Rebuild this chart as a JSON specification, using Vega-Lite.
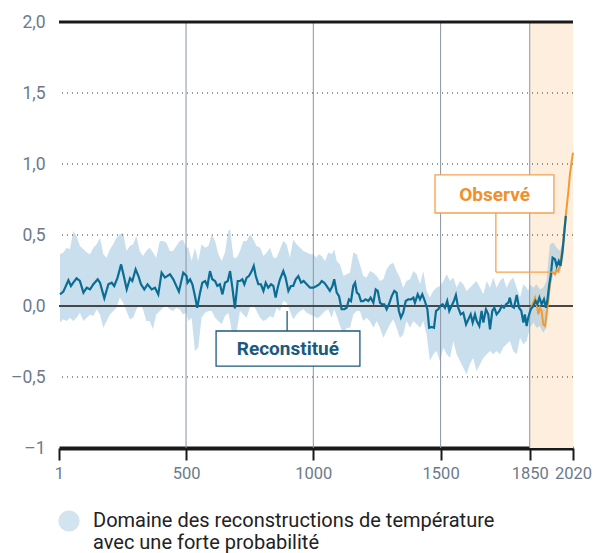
{
  "$schema": "https://vega.github.io/schema/vega-lite/v6.json",
  "width": 514,
  "height": 426,
  "autosize": "none",
  "padding": {"left": 59, "top": 22, "right": 22, "bottom": 105},
  "config": {
    "view": {"stroke": null},
    "font": "Roboto",
    "axis": {"zindex": 1}
  },
  "datasets": {
    "recon": [
      {"year":5,"t":0.082},{"year":18,"t":0.101},{"year":38,"t":0.181},{"year":48,"t":0.141},{"year":57,"t":0.164},{"year":70,"t":0.195},{"year":83,"t":0.176},{"year":97,"t":0.094},{"year":110,"t":0.129},{"year":123,"t":0.117},{"year":136,"t":0.153},{"year":153,"t":0.188},{"year":162,"t":0.164},{"year":179,"t":0.054},{"year":195,"t":0.153},{"year":208,"t":0.164},{"year":218,"t":0.141},{"year":231,"t":0.2},{"year":245,"t":0.293},{"year":254,"t":0.223},{"year":267,"t":0.117},{"year":280,"t":0.195},{"year":289,"t":0.176},{"year":302,"t":0.258},{"year":313,"t":0.211},{"year":323,"t":0.153},{"year":336,"t":0.117},{"year":349,"t":0.153},{"year":365,"t":0.117},{"year":378,"t":0.129},{"year":391,"t":0.082},{"year":404,"t":0.235},{"year":417,"t":0.2},{"year":437,"t":0.223},{"year":450,"t":0.188},{"year":472,"t":0.101},{"year":489,"t":0.235},{"year":502,"t":0.211},
      {"year":506,"t":0.164},{"year":516,"t":0.188},{"year":525,"t":0.153},{"year":535,"t":0.07},{"year":544,"t":-0.012},{"year":555,"t":0.094},{"year":564,"t":0.164},{"year":575,"t":0.176},{"year":584,"t":0.141},{"year":594,"t":0.246},{"year":603,"t":0.188},{"year":614,"t":0.176},{"year":623,"t":0.141},{"year":633,"t":0.153},{"year":643,"t":0.082},{"year":653,"t":0.164},{"year":664,"t":0.176},{"year":673,"t":0.246},{"year":682,"t":0.129},{"year":692,"t":-0.016},{"year":703,"t":0.176},{"year":712,"t":0.176},{"year":721,"t":0.188},{"year":729,"t":0.153},{"year":738,"t":0.2},{"year":747,"t":0.211},{"year":758,"t":0.246},{"year":766,"t":0.282},{"year":774,"t":0.211},{"year":784,"t":0.153},{"year":794,"t":0.153},{"year":804,"t":0.106},{"year":813,"t":0.164},{"year":823,"t":0.129},{"year":834,"t":0.153},{"year":843,"t":0.141},{"year":852,"t":0.059},{"year":860,"t":0.129},{"year":869,"t":0.188},{"year":882,"t":0.246},{"year":891,"t":0.2},{"year":902,"t":0.106},{"year":912,"t":0.141},{"year":921,"t":0.141},{"year":931,"t":0.188},{"year":941,"t":0.211},{"year":952,"t":0.164},{"year":962,"t":0.176},{"year":974,"t":0.153},{"year":987,"t":0.129},{"year":1000,"t":0.129},{"year":1013,"t":0.141},{"year":1024,"t":0.153},
      {"year":1033,"t":0.176},{"year":1043,"t":0.164},{"year":1052,"t":0.141},{"year":1065,"t":0.106},{"year":1075,"t":0.141},{"year":1082,"t":0.188},{"year":1092,"t":0.094},{"year":1101,"t":0.07},{"year":1111,"t":-0.023},{"year":1122,"t":-0.023},{"year":1131,"t":-0.012},{"year":1140,"t":0.047},{"year":1148,"t":0.035},{"year":1157,"t":0.141},{"year":1164,"t":0.164},{"year":1171,"t":0.094},{"year":1179,"t":0.082},{"year":1187,"t":0.035},{"year":1196,"t":0.035},{"year":1205,"t":0.047},{"year":1216,"t":0.035},{"year":1225,"t":0.059},{"year":1236,"t":0.023},{"year":1245,"t":0.117},{"year":1253,"t":0.106},{"year":1262,"t":0.023},{"year":1271,"t":0.012},{"year":1279,"t":0.012},{"year":1288,"t":-0.023},{"year":1297,"t":0.012},{"year":1308,"t":0.07},{"year":1318,"t":0.106},{"year":1327,"t":0.094},{"year":1336,"t":-0.035},{"year":1344,"t":-0.082},{"year":1353,"t":-0.047},{"year":1363,"t":0.035},{"year":1373,"t":0.047},{"year":1384,"t":0.047},{"year":1393,"t":0.059},{"year":1399,"t":0.023},{"year":1410,"t":0.082},{"year":1419,"t":0.047},{"year":1428,"t":0.082},{"year":1438,"t":0.035},{"year":1448,"t":-0.023},{"year":1455,"t":-0.153},{"year":1465,"t":-0.148},{"year":1474,"t":-0.153},{"year":1482,"t":-0.035},{"year":1491,"t":-0.023},
      {"year":1498,"t":0},{"year":1508,"t":0.012},{"year":1517,"t":-0.012},{"year":1526,"t":0.035},{"year":1534,"t":-0.035},{"year":1543,"t":0},{"year":1552,"t":0.035},{"year":1560,"t":0.077},{"year":1569,"t":-0.012},{"year":1579,"t":-0.059},{"year":1589,"t":-0.047},{"year":1600,"t":-0.129},{"year":1609,"t":-0.094},{"year":1618,"t":-0.059},{"year":1626,"t":-0.117},{"year":1635,"t":-0.059},{"year":1642,"t":-0.106},{"year":1652,"t":-0.141},{"year":1661,"t":-0.035},{"year":1668,"t":-0.117},{"year":1678,"t":-0.023},{"year":1687,"t":-0.059},{"year":1694,"t":-0.164},{"year":1703,"t":-0.035},{"year":1711,"t":-0.012},{"year":1720,"t":-0.059},{"year":1731,"t":-0.035},{"year":1740,"t":0},{"year":1749,"t":-0.012},{"year":1757,"t":0.012},{"year":1766,"t":0.023},{"year":1772,"t":0.059},{"year":1779,"t":0},{"year":1788,"t":-0.012},{"year":1799,"t":0.077},{"year":1808,"t":-0.012},{"year":1817,"t":-0.035},{"year":1825,"t":-0.117},{"year":1831,"t":-0.059},{"year":1838,"t":-0.141},{"year":1844,"t":-0.082},{"year":1854,"t":-0.023},{"year":1864,"t":0},{"year":1873,"t":0.035},{"year":1880,"t":0.012},{"year":1888,"t":0.059},{"year":1897,"t":0.012},{"year":1906,"t":0.047},{"year":1914,"t":-0.012},{"year":1919,"t":0.035},{"year":1927,"t":0.153},{"year":1933,"t":0.223},{"year":1940,"t":0.34},{"year":1949,"t":0.329},{"year":1956,"t":0.282},{"year":1964,"t":0.317},{"year":1971,"t":0.282},{"year":1979,"t":0.387},{"year":1984,"t":0.481},{"year":1992,"t":0.634}
    ],
    "obs": [
      {"year":1851,"t":-0.035},{"year":1861,"t":0.012},{"year":1871,"t":0.059},{"year":1877,"t":0.012},{"year":1884,"t":-0.059},{"year":1890,"t":-0.012},{"year":1897,"t":-0.035},{"year":1903,"t":-0.129},{"year":1910,"t":-0.141},{"year":1916,"t":-0.059},{"year":1923,"t":0.035},{"year":1929,"t":0.153},{"year":1936,"t":0.235},{"year":1943,"t":0.235},{"year":1949,"t":0.223},{"year":1956,"t":0.258},{"year":1962,"t":0.246},{"year":1969,"t":0.282},{"year":1975,"t":0.364},{"year":1982,"t":0.458},{"year":1988,"t":0.575},{"year":1995,"t":0.692},{"year":2002,"t":0.81},{"year":2008,"t":0.927},{"year":2015,"t":1.021},{"year":2020,"t":1.08}
    ],
    "band": [
      {"year":5,"lo":-0.117,"hi":0.364},{"year":18,"lo":-0.094,"hi":0.376},{"year":31,"lo":-0.106,"hi":0.411},{"year":44,"lo":-0.082,"hi":0.399},{"year":57,"lo":-0.106,"hi":0.528},{"year":70,"lo":-0.082,"hi":0.493},{"year":83,"lo":-0.047,"hi":0.423},{"year":97,"lo":-0.106,"hi":0.399},{"year":110,"lo":-0.082,"hi":0.376},{"year":123,"lo":-0.059,"hi":0.364},{"year":136,"lo":-0.07,"hi":0.411},{"year":149,"lo":-0.023,"hi":0.434},{"year":162,"lo":-0.059,"hi":0.481},{"year":175,"lo":-0.153,"hi":0.364},{"year":188,"lo":-0.106,"hi":0.34},{"year":201,"lo":-0.059,"hi":0.399},{"year":214,"lo":-0.035,"hi":0.434},{"year":227,"lo":-0.012,"hi":0.481},{"year":240,"lo":0.059,"hi":0.505},{"year":253,"lo":0.023,"hi":0.516},{"year":266,"lo":-0.035,"hi":0.387},{"year":279,"lo":-0.094,"hi":0.423},{"year":292,"lo":-0.082,"hi":0.434},{"year":305,"lo":-0.023,"hi":0.493},{"year":318,"lo":0.012,"hi":0.387},{"year":331,"lo":-0.023,"hi":0.352},{"year":344,"lo":-0.106,"hi":0.387},{"year":357,"lo":-0.106,"hi":0.411},{"year":370,"lo":-0.164,"hi":0.376},{"year":383,"lo":-0.059,"hi":0.34},{"year":397,"lo":-0.035,"hi":0.458},{"year":410,"lo":-0.012,"hi":0.458},{"year":423,"lo":0,"hi":0.446},{"year":436,"lo":-0.023,"hi":0.387},{"year":449,"lo":-0.035,"hi":0.387},{"year":462,"lo":-0.012,"hi":0.423},{"year":475,"lo":-0.023,"hi":0.458},{"year":488,"lo":-0.059,"hi":0.469},{"year":501,"lo":-0.047,"hi":0.411},
      {"year":509,"lo":-0.106,"hi":0.411},{"year":522,"lo":-0.082,"hi":0.317},{"year":535,"lo":-0.317,"hi":0.411},{"year":548,"lo":-0.293,"hi":0.317},{"year":561,"lo":-0.082,"hi":0.434},{"year":575,"lo":-0.047,"hi":0.411},{"year":588,"lo":-0.035,"hi":0.423},{"year":601,"lo":-0.035,"hi":0.505},{"year":614,"lo":-0.082,"hi":0.458},{"year":627,"lo":-0.106,"hi":0.364},{"year":640,"lo":-0.129,"hi":0.317},{"year":653,"lo":-0.07,"hi":0.376},{"year":666,"lo":-0.047,"hi":0.528},{"year":673,"lo":-0.106,"hi":0.54},{"year":686,"lo":-0.246,"hi":0.34},{"year":699,"lo":-0.176,"hi":0.34},{"year":712,"lo":-0.035,"hi":0.387},{"year":725,"lo":-0.059,"hi":0.458},{"year":738,"lo":-0.082,"hi":0.458},{"year":751,"lo":-0.012,"hi":0.505},{"year":764,"lo":0.012,"hi":0.469},{"year":777,"lo":-0.035,"hi":0.423},{"year":791,"lo":-0.082,"hi":0.411},{"year":804,"lo":-0.106,"hi":0.352},{"year":817,"lo":-0.094,"hi":0.376},{"year":830,"lo":-0.07,"hi":0.411},{"year":843,"lo":-0.082,"hi":0.34},{"year":856,"lo":-0.012,"hi":0.34},{"year":869,"lo":-0.035,"hi":0.399},{"year":882,"lo":0.035,"hi":0.458},{"year":895,"lo":0.023,"hi":0.434},{"year":908,"lo":-0.035,"hi":0.34},{"year":921,"lo":-0.094,"hi":0.469},{"year":934,"lo":-0.059,"hi":0.434},{"year":948,"lo":-0.035,"hi":0.411},{"year":961,"lo":-0.023,"hi":0.387},{"year":974,"lo":-0.047,"hi":0.376},{"year":987,"lo":-0.059,"hi":0.364},{"year":1000,"lo":-0.07,"hi":0.364},{"year":1013,"lo":-0.082,"hi":0.34},
      {"year":1020,"lo":-0.082,"hi":0.364},{"year":1033,"lo":-0.059,"hi":0.352},{"year":1046,"lo":-0.035,"hi":0.317},{"year":1059,"lo":-0.023,"hi":0.376},{"year":1072,"lo":-0.082,"hi":0.364},{"year":1082,"lo":-0.023,"hi":0.399},{"year":1092,"lo":-0.07,"hi":0.317},{"year":1105,"lo":-0.141,"hi":0.293},{"year":1118,"lo":-0.2,"hi":0.211},{"year":1131,"lo":-0.153,"hi":0.223},{"year":1144,"lo":-0.153,"hi":0.235},{"year":1157,"lo":-0.059,"hi":0.376},{"year":1170,"lo":-0.035,"hi":0.364},{"year":1183,"lo":-0.035,"hi":0.293},{"year":1196,"lo":-0.106,"hi":0.211},{"year":1209,"lo":-0.082,"hi":0.2},{"year":1222,"lo":-0.106,"hi":0.246},{"year":1236,"lo":-0.153,"hi":0.235},{"year":1249,"lo":-0.106,"hi":0.211},{"year":1262,"lo":-0.153,"hi":0.176},{"year":1275,"lo":-0.223,"hi":0.188},{"year":1288,"lo":-0.176,"hi":0.258},{"year":1301,"lo":-0.129,"hi":0.293},{"year":1314,"lo":-0.094,"hi":0.305},{"year":1327,"lo":-0.153,"hi":0.246},{"year":1340,"lo":-0.223,"hi":0.2},{"year":1353,"lo":-0.2,"hi":0.129},{"year":1366,"lo":-0.106,"hi":0.176},{"year":1380,"lo":-0.153,"hi":0.188},{"year":1393,"lo":-0.106,"hi":0.246},{"year":1406,"lo":-0.129,"hi":0.223},{"year":1419,"lo":-0.153,"hi":0.153},{"year":1432,"lo":-0.106,"hi":0.246},{"year":1445,"lo":-0.2,"hi":0.106},{"year":1458,"lo":-0.387,"hi":0.059},{"year":1471,"lo":-0.34,"hi":0.106},{"year":1484,"lo":-0.317,"hi":0.129},{"year":1497,"lo":-0.387,"hi":0.141},
      {"year":1511,"lo":-0.293,"hi":0.176},{"year":1524,"lo":-0.34,"hi":0.223},{"year":1537,"lo":-0.364,"hi":0.176},{"year":1550,"lo":-0.246,"hi":0.2},{"year":1563,"lo":-0.34,"hi":0.129},{"year":1576,"lo":-0.387,"hi":0.176},{"year":1589,"lo":-0.434,"hi":0.153},{"year":1602,"lo":-0.481,"hi":0.106},{"year":1615,"lo":-0.411,"hi":0.129},{"year":1628,"lo":-0.364,"hi":0.153},{"year":1641,"lo":-0.458,"hi":0.176},{"year":1655,"lo":-0.411,"hi":0.129},{"year":1668,"lo":-0.364,"hi":0.082},{"year":1681,"lo":-0.34,"hi":0.176},{"year":1694,"lo":-0.317,"hi":0.129},{"year":1707,"lo":-0.34,"hi":0.2},{"year":1720,"lo":-0.317,"hi":0.129},{"year":1733,"lo":-0.34,"hi":0.176},{"year":1746,"lo":-0.293,"hi":0.2},{"year":1759,"lo":-0.27,"hi":0.129},{"year":1772,"lo":-0.246,"hi":0.176},{"year":1785,"lo":-0.317,"hi":0.2},{"year":1799,"lo":-0.34,"hi":0.129},{"year":1812,"lo":-0.223,"hi":0.059},{"year":1825,"lo":-0.27,"hi":0.153},{"year":1838,"lo":-0.246,"hi":0.129},{"year":1844,"lo":-0.2,"hi":0.106},{"year":1851,"lo":-0.153,"hi":0.153},{"year":1864,"lo":-0.117,"hi":0.129},{"year":1877,"lo":-0.153,"hi":0.153},{"year":1890,"lo":-0.141,"hi":0.117},{"year":1903,"lo":-0.188,"hi":0.129},{"year":1916,"lo":-0.153,"hi":0.176},{"year":1929,"lo":0.106,"hi":0.434},{"year":1943,"lo":0.235,"hi":0.446},{"year":1956,"lo":0.223,"hi":0.411},{"year":1969,"lo":0.235,"hi":0.387},{"year":1982,"lo":0.34,"hi":0.458},{"year":1992,"lo":0.58,"hi":0.7}
    ]
  },
  "layer": [
    {
      "data": {"values": [{"s": 1850, "e": 2020}]},
      "mark": {"type": "rect", "color": "#fdeede"},
      "encoding": {
        "x": {"field": "s", "type": "quantitative", "scale": {"domain": [1, 2020], "nice": false, "zero": false},
          "axis": {"values": [1, 500, 1000, 1500, 1850, 2020], "title": null, "grid": false, "domainColor": "#1a1a1a", "domainWidth": 4, "tickColor": "#1a1a1a", "tickWidth": 2, "tickSize": 12, "labelFlush": false, "labelOverlap": false, "labelFontSize": 16.5, "labelColor": "#6c7a8c", "labelPadding": 5, "format": "d"}},
        "x2": {"field": "e"}
      }
    },
    {
      "data": {"name": "band"},
      "mark": {"type": "area", "opacity": 0.5},
      "encoding": {
        "x": {"field": "year", "type": "quantitative"},
        "y": {"field": "lo", "type": "quantitative", "scale": {"domain": [-1, 2], "nice": false},
          "axis": {"values": [-1, -0.5, 0, 0.5, 1, 1.5, 2], "title": null, "grid": false, "domain": false, "ticks": false, "labelFontSize": 17.5, "labelColor": "#6c7a8c", "labelPadding": 14,
            "labelExpr": "datum.value == -1 ? '–1' : datum.value < 0 ? '–' + replace(format(-datum.value, '.1f'), '.', ',') : replace(format(datum.value, '.1f'), '.', ',')"}},
        "y2": {"field": "hi"},
        "color": {"datum": "Domaine des reconstructions de température", "type": "nominal", "scale": {"range": ["#93bfdc"]},
          "legend": {"title": null, "orient": "none", "legendX": -1, "legendY": 488, "symbolType": "circle", "symbolSize": 450, "symbolOpacity": 0.42, "symbolStrokeWidth": 0, "labelFontSize": 20, "labelColor": "#222222", "labelLimit": 0, "labelOffset": 13, "labelExpr": "['Domaine des reconstructions de température', 'avec une forte probabilité']"}}
      }
    },
    {
      "data": {"values": [{"g": 500}, {"g": 1000}, {"g": 1500}, {"g": 1850}]},
      "mark": {"type": "rule", "color": "#8995a3", "strokeWidth": 1},
      "encoding": {"x": {"field": "g", "type": "quantitative"}}
    },
    {
      "data": {"values": [{"v": -0.5}, {"v": 0.5}, {"v": 1}, {"v": 1.5}]},
      "mark": {"type": "rule", "color": "#333333", "strokeWidth": 1, "strokeDash": [1, 4]},
      "encoding": {"y": {"field": "v", "type": "quantitative"}}
    },
    {
      "data": {"values": [{"v": 0}]},
      "mark": {"type": "rule", "color": "#474747", "strokeWidth": 2},
      "encoding": {"y": {"field": "v", "type": "quantitative"}}
    },
    {
      "data": {"values": [{"v": 2}]},
      "mark": {"type": "rule", "color": "#1a1a1a", "strokeWidth": 3},
      "encoding": {"y": {"field": "v", "type": "quantitative"}}
    },
    {
      "data": {"name": "obs"},
      "mark": {"type": "line", "color": "#f39a30", "strokeWidth": 2},
      "encoding": {"x": {"field": "year", "type": "quantitative"}, "y": {"field": "t", "type": "quantitative"}}
    },
    {
      "data": {"name": "recon"},
      "mark": {"type": "line", "color": "#0b6d94", "strokeWidth": 2.2},
      "encoding": {"x": {"field": "year", "type": "quantitative"}, "y": {"field": "t", "type": "quantitative"}}
    },
    {
      "data": {"values": [
        {"x": 897, "y": -0.035, "x2": 897, "y2": -0.176, "c": "r"},
        {"x": 1717, "y": 0.655, "x2": 1717, "y2": 0.239, "c": "o"},
        {"x": 1717, "y": 0.239, "x2": 1941, "y2": 0.239, "c": "o"}
      ]},
      "mark": {"type": "rule", "strokeWidth": 1.3},
      "encoding": {
        "x": {"field": "x", "type": "quantitative"}, "x2": {"field": "x2"},
        "y": {"field": "y", "type": "quantitative"}, "y2": {"field": "y2"},
        "stroke": {"field": "c", "type": "nominal", "scale": {"domain": ["r", "o"], "range": ["#1b5a7e", "#f5a14f"]}, "legend": null}
      }
    },
    {
      "data": {"values": [
        {"x": 618, "x2": 1183, "y": -0.176, "y2": -0.423, "c": "r"},
        {"x": 1478, "x2": 1945, "y": 0.923, "y2": 0.655, "c": "o"}
      ]},
      "mark": {"type": "rect", "fill": "white", "strokeWidth": 1.3},
      "encoding": {
        "x": {"field": "x", "type": "quantitative"}, "x2": {"field": "x2"},
        "y": {"field": "y", "type": "quantitative"}, "y2": {"field": "y2"},
        "stroke": {"field": "c", "type": "nominal", "scale": {"domain": ["r", "o"], "range": ["#6f93ae", "#f7b36f"]}, "legend": null}
      }
    },
    {
      "data": {"values": [
        {"x": 900, "y": -0.305, "label": "Reconstitué", "c": "r"},
        {"x": 1712, "y": 0.785, "label": "Observé", "c": "o"}
      ]},
      "mark": {"type": "text", "fontSize": 19, "fontWeight": "bold", "align": "center", "baseline": "middle"},
      "encoding": {
        "x": {"field": "x", "type": "quantitative"},
        "y": {"field": "y", "type": "quantitative"},
        "text": {"field": "label"},
        "fill": {"field": "c", "type": "nominal", "scale": {"domain": ["r", "o"], "range": ["#1b5a7e", "#f0902a"]}, "legend": null}
      }
    }
  ]
}
